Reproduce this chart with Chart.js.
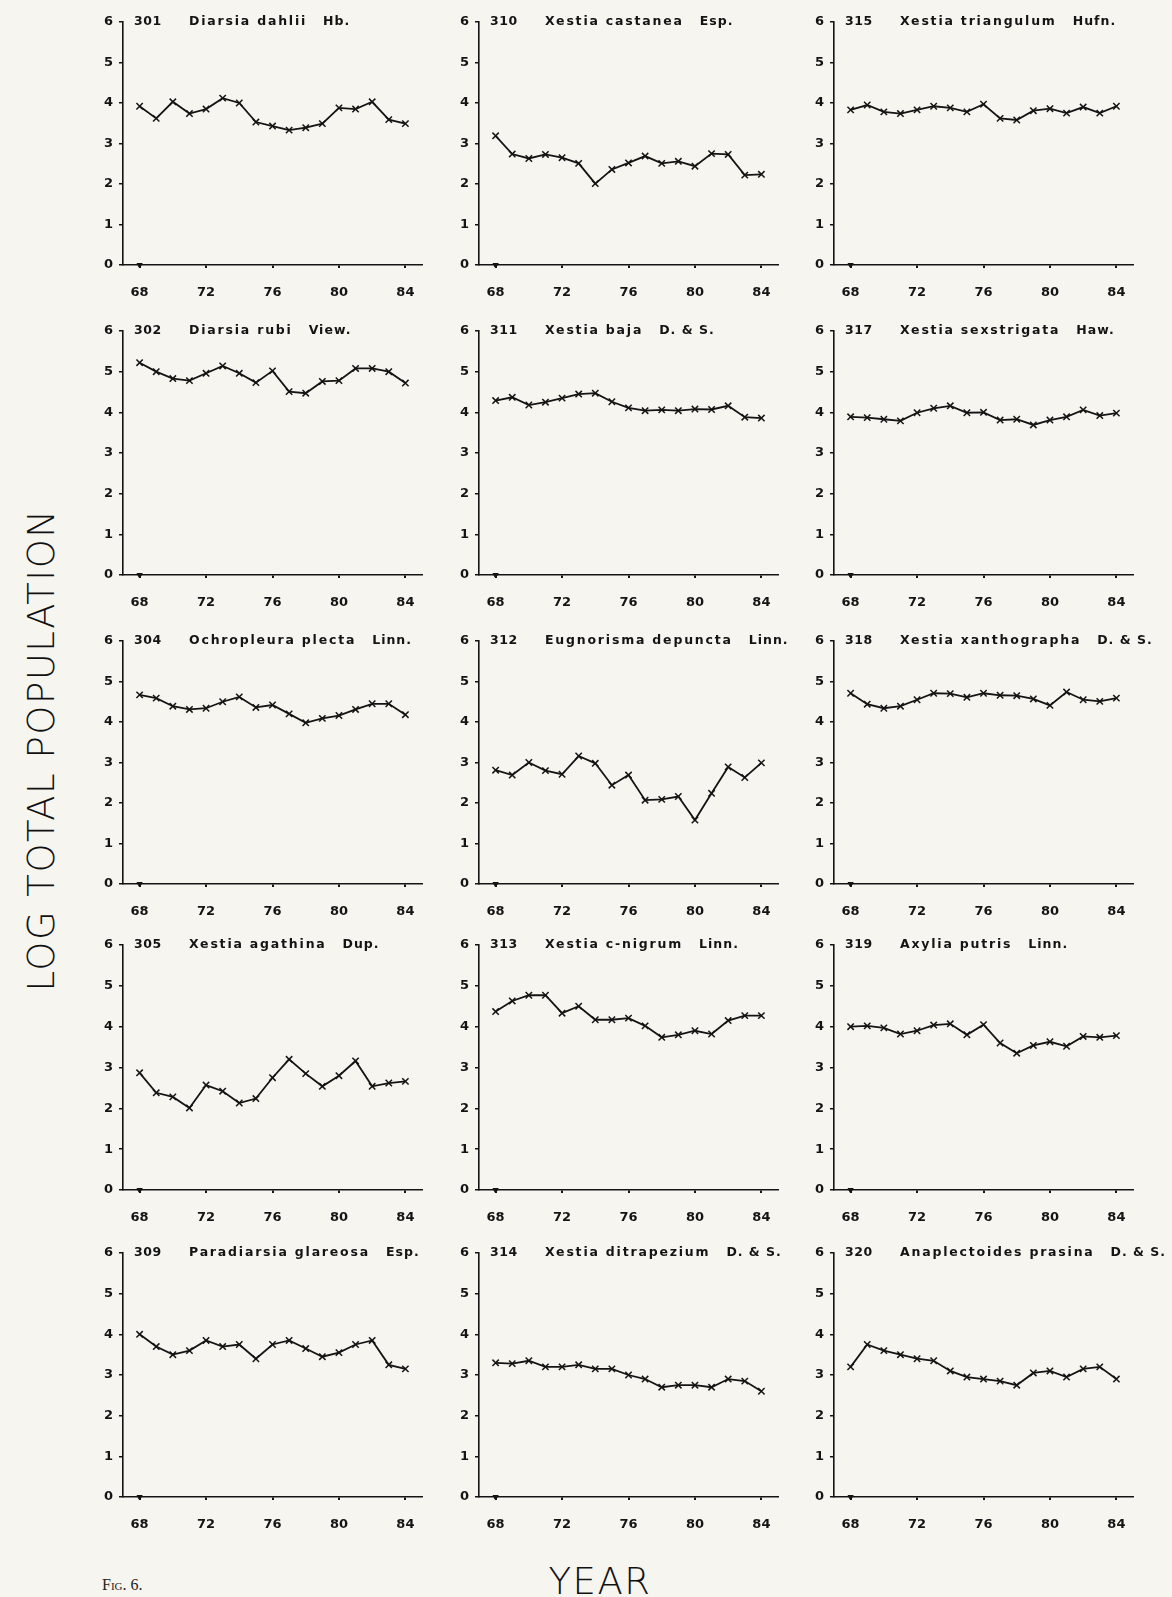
<!DOCTYPE html>
<html>
<head>
<meta charset="utf-8">
<script src="https://cdn.jsdelivr.net/npm/chart.js@4.4.1/dist/chart.umd.min.js"></script>
<style>
  html, body { margin: 0; padding: 0; background: #f6f5f0; }
  body { width: 1172px; height: 1597px; position: relative; overflow: hidden; }
  canvas { position: absolute; }
  .ylab {
    position: absolute; left: 41px; top: 750px;
    transform: translate(-50%, -50%) rotate(-90deg);
    font-family: "DejaVu Sans", sans-serif; font-weight: 200; font-size: 37px;
    letter-spacing: 1.5px; white-space: nowrap; color: #111;
  }
  .xlab {
    position: absolute; left: 600px; top: 1581px;
    transform: translate(-50%, -50%);
    font-family: "DejaVu Sans", sans-serif; font-weight: 200; font-size: 37px;
    letter-spacing: 1.5px; white-space: nowrap; color: #111;
  }
  .fig {
    position: absolute; left: 102px; top: 1576px;
    font-family: "Liberation Serif", serif; font-variant: small-caps; font-size: 16px;
    color: #222; white-space: nowrap;
  }
</style>
</head>
<body>
<div class="ylab">LOG TOTAL POPULATION</div>
<div class="xlab">YEAR</div>
<div class="fig">Fig. 6.</div>
<script>
// Years of trapping (19xx) and axis ticks
const years = [68, 69, 70, 71, 72, 73, 74, 75, 76, 77, 78, 79, 80, 81, 82, 83, 84];
const yearTicks = [68, 72, 76, 80, 84];
const logTicks = [0, 1, 2, 3, 4, 5, 6];
const zeroMarkYear = [68];

// log10 total population per species, 1968-1984
const s301 = [3.92, 3.62, 4.03, 3.74, 3.85, 4.12, 4.00, 3.53, 3.43, 3.33, 3.39, 3.49, 3.88, 3.85, 4.03, 3.59, 3.49];
const s310 = [3.19, 2.74, 2.63, 2.73, 2.65, 2.51, 2.01, 2.36, 2.52, 2.69, 2.51, 2.56, 2.44, 2.75, 2.73, 2.22, 2.24];
const s315 = [3.83, 3.95, 3.78, 3.74, 3.83, 3.92, 3.88, 3.78, 3.97, 3.62, 3.58, 3.81, 3.86, 3.75, 3.90, 3.75, 3.92];
const s302 = [5.22, 5.00, 4.83, 4.78, 4.96, 5.14, 4.96, 4.73, 5.02, 4.51, 4.47, 4.76, 4.78, 5.08, 5.08, 5.00, 4.72];
const s311 = [4.29, 4.37, 4.18, 4.25, 4.35, 4.45, 4.47, 4.26, 4.11, 4.04, 4.06, 4.04, 4.08, 4.07, 4.16, 3.88, 3.86];
const s317 = [3.89, 3.87, 3.83, 3.79, 3.99, 4.10, 4.16, 3.99, 4.00, 3.81, 3.83, 3.69, 3.81, 3.89, 4.06, 3.92, 3.98];
const s304 = [4.67, 4.59, 4.39, 4.31, 4.34, 4.50, 4.62, 4.36, 4.42, 4.20, 3.98, 4.09, 4.16, 4.31, 4.45, 4.45, 4.18];
const s312 = [2.81, 2.69, 3.00, 2.80, 2.71, 3.16, 2.98, 2.44, 2.69, 2.07, 2.09, 2.16, 1.58, 2.24, 2.89, 2.63, 2.99];
const s318 = [4.71, 4.44, 4.34, 4.39, 4.55, 4.71, 4.70, 4.61, 4.71, 4.66, 4.65, 4.57, 4.41, 4.74, 4.55, 4.51, 4.59];
const s305 = [2.87, 2.38, 2.28, 2.01, 2.57, 2.42, 2.13, 2.24, 2.75, 3.20, 2.85, 2.54, 2.80, 3.16, 2.54, 2.62, 2.66];
const s313 = [4.37, 4.63, 4.77, 4.77, 4.33, 4.50, 4.17, 4.17, 4.21, 4.02, 3.74, 3.80, 3.90, 3.82, 4.15, 4.27, 4.27];
const s319 = [4.00, 4.02, 3.97, 3.82, 3.90, 4.04, 4.07, 3.80, 4.05, 3.60, 3.35, 3.54, 3.63, 3.52, 3.76, 3.74, 3.78];
const s309 = [4.00, 3.70, 3.50, 3.60, 3.85, 3.70, 3.75, 3.40, 3.75, 3.85, 3.65, 3.45, 3.55, 3.75, 3.85, 3.25, 3.15];
const s314 = [3.30, 3.28, 3.35, 3.20, 3.20, 3.25, 3.15, 3.15, 3.00, 2.90, 2.70, 2.75, 2.75, 2.70, 2.90, 2.85, 2.60];
const s320 = [3.20, 3.75, 3.60, 3.50, 3.40, 3.35, 3.10, 2.95, 2.90, 2.85, 2.75, 3.05, 3.10, 2.95, 3.15, 3.20, 2.90];

// species codes, names and authorities
const codes = ['301', '310', '315', '302', '311', '317', '304', '312', '318', '305', '313', '319', '309', '314', '320'];
const names = ['Diarsia dahlii', 'Xestia castanea', 'Xestia triangulum', 'Diarsia rubi', 'Xestia baja',
  'Xestia sexstrigata', 'Ochropleura plecta', 'Eugnorisma depuncta', 'Xestia xanthographa',
  'Xestia agathina', 'Xestia c-nigrum', 'Axylia putris', 'Paradiarsia glareosa',
  'Xestia ditrapezium', 'Anaplectoides prasina'];
const authors = ['Hb.', 'Esp.', 'Hufn.', 'View.', 'D. & S.', 'Haw.', 'Linn.', 'Linn.', 'D. & S.',
  'Dup.', 'Linn.', 'Linn.', 'Esp.', 'D. & S.', 'D. & S.'];
const series = [s301, s310, s315, s302, s311, s317, s304, s312, s318, s305, s313, s319, s309, s314, s320];

// panel grid geometry (page pixels)
const colAxisX = [123, 479, 834];
const rowZeroY = [265, 575, 884, 1190, 1497];
const rowPlotH = [243, 244, 243, 245, 244];
const plotW = 299;
const yAxisW = 40, xAxisH = 40, padTop = 14, padRight = 50;

const INK = '#141414';
const tickFont = { family: 'DejaVu Sans', size: 13, weight: 'bold' };

// species number, name and authority drawn level with the top tick
const panelTitle = {
  id: 'panelTitle',
  afterDraw(chart, args, opts) {
    const { ctx, chartArea } = chart;
    const y = chart.scales.y.getPixelForValue(6);
    ctx.save();
    ctx.fillStyle = INK;
    ctx.textBaseline = 'middle';
    ctx.font = 'bold 12.5px "DejaVu Sans"';
    ctx.letterSpacing = '0.5px';
    ctx.fillText(opts.code, chartArea.left + 11, y);
    ctx.letterSpacing = '1.8px';
    const nx = chartArea.left + 66;
    ctx.fillText(opts.name, nx, y);
    const w = ctx.measureText(opts.name).width;
    ctx.letterSpacing = '1px';
    ctx.fillText(opts.author, nx + w + 16, y);
    ctx.restore();
  }
};

series.forEach((vals, i) => {
  const col = i % 3, row = Math.floor(i / 3);
  const h = rowPlotH[row];
  const cv = document.createElement('canvas');
  const W = yAxisW + plotW + padRight;
  const H = padTop + h + xAxisH;
  cv.width = W; cv.height = H;
  cv.style.left = (colAxisX[col] - yAxisW) + 'px';
  cv.style.top = (rowZeroY[row] - h - padTop) + 'px';
  cv.style.width = W + 'px'; cv.style.height = H + 'px';
  document.body.appendChild(cv);

  new Chart(cv, {
    type: 'line',
    data: {
      datasets: [
        {
          data: years.map((yr, k) => ({ x: yr, y: vals[k] })),
          borderColor: INK, borderWidth: 1.8, tension: 0,
          pointStyle: 'crossRot', pointRadius: 4.5, pointBorderWidth: 1.5,
          pointBorderColor: INK, pointBackgroundColor: INK, clip: false
        },
        {
          data: zeroMarkYear.map(yr => ({ x: yr, y: 0 })),
          showLine: false, pointStyle: 'triangle', rotation: 180,
          pointRadius: 3, pointBackgroundColor: INK, pointBorderColor: INK, clip: false
        }
      ]
    },
    options: {
      responsive: false, animation: false, devicePixelRatio: 1,
      layout: { padding: { top: padTop, right: padRight, left: 0, bottom: 0 } },
      plugins: {
        legend: { display: false }, tooltip: { enabled: false },
        panelTitle: { code: codes[i], name: names[i], author: authors[i] }
      },
      scales: {
        x: {
          type: 'linear', min: 67, max: 85,
          afterBuildTicks: s => { s.ticks = yearTicks.map(v => ({ value: v })); },
          afterFit: s => { s.height = xAxisH; },
          border: { display: true, color: INK, width: 1.6 },
          grid: { drawOnChartArea: false, drawTicks: true, tickLength: 3, color: INK, lineWidth: 2 },
          ticks: { color: INK, font: tickFont, padding: 17, maxRotation: 0, autoSkip: false }
        },
        y: {
          type: 'linear', min: 0, max: 6,
          afterBuildTicks: s => { s.ticks = logTicks.map(v => ({ value: v })); },
          afterFit: s => { s.width = yAxisW; },
          border: { display: true, color: INK, width: 1.6 },
          grid: { drawOnChartArea: false, drawTicks: true, tickLength: 4, color: INK, lineWidth: 1.5 },
          ticks: { color: INK, font: tickFont, padding: 6 }
        }
      }
    },
    plugins: [panelTitle]
  });
});
</script>
</body>
</html>
